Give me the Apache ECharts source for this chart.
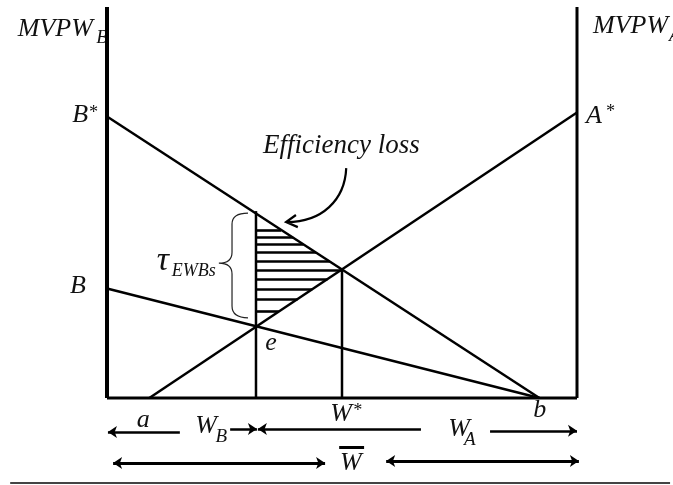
<!DOCTYPE html>
<html>
<head>
<meta charset="utf-8">
<script src="https://cdn.jsdelivr.net/npm/echarts@6/dist/echarts.min.js"></script>
<style>
  html, body { margin: 0; padding: 0; background: #fff; }
  #chart { width: 673px; height: 485px; }
</style>
</head>
<body>
<div id="chart"></div>
<script>
// x: labour share along W-bar (0..100), y: MVPW (0..100)
const mvpwBStar = [[0, 72], [92, 0]]
const mvpwB = [[0, 28], [92, 0]]
const mvpwA = [[9, 0], [100, 73]]
const wB = 31.7
const wBTop = 47.8
const wStar = 50
const wStarTop = 32.9
// heights of the hatch strokes in the efficiency-loss triangle
const hatchLevels = [43.0, 41.0, 39.3, 37.2, 34.9, 32.7, 30.4, 27.8, 25.3, 22.1]
// spans of the labour arrows under the axis
const arrowsRight = [[[26.2, -7.9], [31.9, -7.9]], [[81.5, -8.4], [100, -8.4]]]
const arrowsLeft = [[[15.5, -8.7], [0.2, -8.7]], [[66.8, -7.9], [32.1, -7.9]]]
const arrowsBoth = [[[1.3, -16.6], [46.4, -16.6]], [[59.4, -16.1], [100.4, -16.1]]]

const black = '#000'
const serif = '"Liberation Serif", "Times New Roman", serif'

function xAt(l, y) {
  const [[x1, y1], [x2, y2]] = l
  return x1 + (y - y1) * (x2 - x1) / (y2 - y1)
}

const hatch = hatchLevels.map(y => [[wB, y], [Math.min(xAt(mvpwBStar, y), xAt(mvpwA, y)), y]])

// text, x, y, font size, align
const annotations = [
  ['MVPW', -3.0, 94.4, 26, 'right'],
  ['B', -2.3, 92.1, 19, 'left'],
  ['MVPW', 103.4, 95.1, 26, 'left'],
  ['A', 119.6, 92.6, 19, 'left'],
  ['B', -4.0, 72.4, 26, 'right'],
  ['*', -4.0, 72.9, 18, 'left'],
  ['A', 101.9, 72.1, 26, 'left'],
  ['*', 106.0, 73.2, 18, 'left'],
  ['B', -4.5, 28.6, 26, 'right'],
  ['Efficiency loss', 33.2, 64.5, 27, 'left'],
  ['τ', 10.6, 35.0, 34, 'left'],
  ['EWBs', 13.8, 32.5, 18, 'left'],
  ['e', 34.9, 14.1, 26, 'center'],
  ['a', 7.7, -5.6, 26, 'center'],
  ['W', 21.1, -7.2, 26, 'center'],
  ['B', 24.3, -10.0, 19, 'center'],
  ['W', 49.8, -4.1, 26, 'center'],
  ['*', 53.2, -3.3, 18, 'center'],
  ['b', 92.1, -3.1, 26, 'center'],
  ['W', 74.9, -7.9, 26, 'center'],
  ['A', 77.2, -10.7, 19, 'center'],
  ['W', 51.9, -16.6, 26, 'center']
]

// brace and the curved pointer, as path commands in axis units
const brace = [['M', 30.0, 47.3], ['Q', 26.6, 47.3, 26.6, 44.5], ['L', 26.6, 37.3], ['Q', 26.6, 34.5, 23.8, 34.5],
  ['Q', 26.6, 34.5, 26.6, 31.7], ['L', 26.6, 23.5], ['Q', 26.6, 20.5, 30.0, 20.5]]
const pointer = [['M', 50.9, 58.8], ['C', 50.6, 50.6, 45.7, 45.0, 38.3, 45.0],
  ['M', 40.2, 46.8], ['L', 38.1, 45.0], ['L', 40.6, 43.7]]

const chart = echarts.init(document.getElementById('chart'))

function line(data, width, z) {
  return {
    type: 'line', data, symbol: 'none', showSymbol: false, clip: false, silent: true, z: z || 2,
    lineStyle: { color: black, width }
  }
}

function segs(list, width, symbol) {
  return {
    type: 'lines', coordinateSystem: 'cartesian2d', clip: false, silent: true, z: 2,
    symbol: symbol || 'none', symbolSize: 9,
    lineStyle: { color: black, width, opacity: 1 },
    data: list.map(c => ({ coords: c }))
  }
}

function toPath(cmds, api) {
  return cmds.map(c => {
    let s = c[0]
    for (let i = 1; i < c.length; i += 2) {
      const p = api.coord([c[i], c[i + 1]])
      s += ' ' + p[0] + ' ' + p[1]
    }
    return s
  }).join(' ')
}

function pathSeries(cmds, width, color) {
  return {
    type: 'custom', coordinateSystem: 'cartesian2d', silent: true, z: 2,
    data: [[0, 0]],
    renderItem: (params, api) => ({
      type: 'path',
      shape: { pathData: toPath(cmds, api) },
      style: { fill: null, stroke: color, lineWidth: width }
    })
  }
}

chart.setOption({
  animation: false,
  grid: { left: 107, right: 96, top: 7, bottom: 87 },
  xAxis: { type: 'value', min: 0, max: 100, show: false },
  yAxis: { type: 'value', min: 0, max: 100, show: false },
  series: [
    line([[0, 100], [0, 0]], 4, 5),
    line([[0, 0], [100, 0]], 3, 5),
    line([[100, 0], [100, 100]], 3, 5),
    line(mvpwBStar, 2.5),
    line(mvpwB, 2.5),
    line(mvpwA, 2.5),
    line([[wB, 0], [wB, wBTop]], 2.5),
    line([[wStar, 0], [wStar, wStarTop]], 2.5),
    segs(hatch, 2.6),
    segs(arrowsRight, 2.5, ['none', 'arrow']),
    segs(arrowsLeft, 2.5, ['none', 'arrow']),
    segs(arrowsBoth, 3, ['arrow', 'arrow']),
    segs([[[49.4, -12.5], [54.7, -12.5]]], 3),
    {
      type: 'lines', coordinateSystem: 'cartesian2d', clip: false, silent: true,
      lineStyle: { color: '#444', width: 2, opacity: 1 },
      data: [{ coords: [[-20.6, -21.7], [119.8, -21.7]] }]
    },
    pathSeries(brace, 1.2, '#222'),
    pathSeries(pointer, 2.2, black),
    {
      type: 'custom', coordinateSystem: 'cartesian2d', silent: true, z: 2,
      data: annotations.map(a => [a[1], a[2]]),
      renderItem: (params, api) => {
        const a = annotations[params.dataIndex]
        const p = api.coord([a[1], a[2]])
        return {
          type: 'text', x: p[0], y: p[1],
          style: {
            text: a[0], fill: '#111', font: 'italic ' + a[3] + 'px ' + serif,
            align: a[4], verticalAlign: 'middle'
          }
        }
      }
    }
  ]
})
</script>
</body>
</html>
